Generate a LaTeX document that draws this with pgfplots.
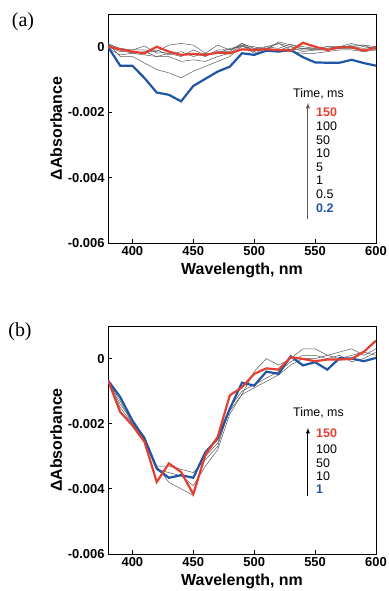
\documentclass[border=0pt]{standalone}
\usepackage{pgfplots}
\pgfplotsset{compat=1.18}
\usepackage{fontspec}
\setmainfont{Liberation Sans}
\newfontfamily\serif{Liberation Serif}
\definecolor{myblue}{RGB}{30,85,165}
\definecolor{myred}{RGB}{228,62,48}
\pgfplotsset{
  panel/.style={
    scale only axis, width=268bp, height=229bp,
    xmin=380, xmax=600, ymin=-0.006, ymax=0.001,
    xtick={400,450,500,550,600},
    ytick={-0.006,-0.004,-0.002,0},
    yticklabels={-0.006,-0.004,-0.002,0},
    xtick pos=bottom, ytick pos=left,
    tick align=inside, major tick length=4bp,
    axis line style={line width=1pt}, major tick style={line width=0.8pt,black},
    tick label style={font=\fontsize{13}{13}\selectfont\bfseries},
    /pgf/number format/assume math mode=true,
    scaled y ticks=false,
    xlabel={Wavelength, nm}, ylabel={ΔAbsorbance},
    label style={font=\fontsize{16}{16}\selectfont\bfseries},
    xlabel style={yshift=0bp},
    ylabel style={yshift=-1bp},
    clip=true,
  },
  gr/.style={gray!70!black, line width=0.5pt},
  bl/.style={myblue, line width=2.2pt},
  rd/.style={myred, line width=2.2pt},
}
\begin{document}
\begin{tikzpicture}
\useasboundingbox (0,0) rectangle (389bp,-591bp);
\node[font=\serif\fontsize{20}{20}\selectfont] at (23bp,-22bp) {(a)};
\node[font=\serif\fontsize{20}{20}\selectfont] at (20bp,-332bp) {(b)};
\begin{axis}[panel, at={(108bp,-14bp)}, anchor=north west]
% gray lines
\addplot[gr] coordinates {(380,0.0001)(390,-0.0003)(400,-0.0003)(410,-0.0005)(420,-0.0007)(430,-0.0008)(440,-0.00095)(450,-0.00075)(460,-0.0006)(470,-0.00045)(480,-0.0003)(490,0.00002)(500,-0.0001)(510,-0.00005)(520,-0.0001)(530,-0.00015)(540,-0.0002)(550,-0.0002)(560,-0.00015)(570,-0.0001)(580,-0.0001)(590,-0.00015)(600,-0.0001)};
\addplot[gr] coordinates {(380,0.00005)(390,-0.0001)(400,-0.0002)(410,-0.00025)(420,-0.0003)(430,-0.0003)(440,-0.00045)(450,-0.0004)(460,-0.00045)(470,-0.0003)(480,-0.0002)(490,0.00005)(500,-0.0002)(510,-0.00005)(520,0.0001)(530,-0.0001)(540,-0.00005)(550,-0.0001)(560,-0.0001)(570,0)(580,0)(590,-0.00005)(600,0)};
\addplot[gr] coordinates {(380,0.00008)(390,-0.00005)(400,-0.0001)(410,-0.0001)(420,-0.00015)(430,0.00005)(440,0.0001)(450,0.00005)(460,-0.0002)(470,0.00005)(480,-0.0001)(490,0.0001)(500,-0.00005)(510,0)(520,0.0001)(530,0)(540,-0.00005)(550,-0.00005)(560,0)(570,0)(580,0.0001)(590,0)(600,-0.00005)};
\addplot[gr] coordinates {(380,0)(390,-0.00015)(400,-0.0001)(410,0.00002)(420,-0.0002)(430,-0.00015)(440,-0.00025)(450,-0.0002)(460,-0.0003)(470,-0.0001)(480,-0.0001)(490,0.00005)(500,0)(510,-0.0001)(520,0.00015)(530,0.00005)(540,0)(550,-0.00005)(560,0)(570,-0.00005)(580,0.00005)(590,0.00005)(600,0)};
\addplot[gr] coordinates {(380,-0.00005)(390,-0.00025)(400,-0.0002)(410,-0.00015)(420,-0.0003)(430,-0.0002)(440,-0.0003)(450,-0.0001)(460,-0.00025)(470,-0.00015)(480,-0.00015)(490,0.0001)(500,-0.00015)(510,0)(520,-0.00005)(530,0.00008)(540,-0.0001)(550,-0.0001)(560,-0.0001)(570,-0.00005)(580,-0.00005)(590,-0.0001)(600,-0.00005)};
\addplot[gr] coordinates {(380,0.0001)(390,-0.00008)(400,-0.00018)(410,-0.0002)(420,-0.0001)(430,-0.00025)(440,-0.00015)(450,-0.0003)(460,-0.0002)(470,-0.0002)(480,-0.00005)(490,0)(500,-0.00005)(510,-0.00008)(520,-0.0001)(530,0)(540,-0.00015)(550,-0.0001)(560,-0.00005)(570,0)(580,0)(590,0.00005)(600,-0.0001)};
% 0.2 ms
\addplot[bl] coordinates {(380,0)(390,-0.00058)(400,-0.00058)(410,-0.00096)(420,-0.0014)(430,-0.00147)(440,-0.00167)(450,-0.0012)(460,-0.00098)(470,-0.00076)(480,-0.00061)(490,-0.0002)(500,-0.00025)(510,-0.00012)(520,-0.00015)(530,-0.0001)(540,-0.00032)(550,-0.00048)(560,-0.00049)(570,-0.00049)(580,-0.0004)(590,-0.0005)(600,-0.00058)};
% 150 ms
\addplot[rd] coordinates {(380,0)(390,-0.00008)(400,-0.00015)(410,-0.0002)(420,0)(430,-0.00015)(440,-0.00025)(450,-0.00022)(460,-0.00025)(470,-0.00018)(480,-0.0002)(490,-0.00008)(500,-0.0001)(510,-0.00008)(520,-0.0001)(530,-0.00012)(540,0.00012)(550,0)(560,-0.0001)(570,-0.00002)(580,-0.00002)(590,-0.00012)(600,-0.00003)};
\draw[-latex, gray!70!black, line width=0.9pt] (rel axis cs:0.746,0.105) -- (rel axis cs:0.746,0.612);
\node[anchor=west, font=\fontsize{12.5}{12.5}\selectfont, inner sep=0pt] at (rel axis cs:0.69,0.65) {Time, ms};
\begin{scope}[every node/.style={anchor=west, inner sep=0pt, font=\fontsize{12.5}{12.5}\selectfont}]
\node[myred, font=\fontsize{12.5}{12.5}\selectfont\bfseries] at (rel axis cs:0.776,0.572) {150};
\node at (rel axis cs:0.776,0.508) {100};
\node at (rel axis cs:0.776,0.449) {50};
\node at (rel axis cs:0.776,0.390) {10};
\node at (rel axis cs:0.776,0.331) {5};
\node at (rel axis cs:0.776,0.272) {1};
\node at (rel axis cs:0.776,0.213) {0.5};
\node[myblue, font=\fontsize{12.5}{12.5}\selectfont\bfseries] at (rel axis cs:0.776,0.154) {0.2};
\end{scope}
\end{axis}
\begin{axis}[panel, height=228bp, at={(108bp,-326bp)}, anchor=north west]
% gray lines
\addplot[gr] coordinates {(380,-0.0007)(390,-0.0014)(400,-0.0019)(410,-0.0024)(420,-0.0033)(430,-0.0038)(440,-0.0040)(450,-0.0042)(460,-0.0030)(470,-0.0026)(480,-0.0016)(490,-0.0011)(500,-0.0004)(510,0)(520,-0.0002)(530,0)(540,0.0003)(550,0.0003)(560,0.0001)(570,0.0002)(580,0.0003)(590,0.0001)(600,0.0003)};
\addplot[gr] coordinates {(380,-0.0007)(390,-0.0013)(400,-0.0020)(410,-0.0025)(420,-0.0033)(430,-0.0033)(440,-0.0034)(450,-0.0035)(460,-0.0031)(470,-0.0027)(480,-0.0015)(490,-0.0010)(500,-0.0008)(510,-0.0006)(520,-0.0004)(530,-0.0001)(540,0.0001)(550,0.0001)(560,0.0000)(570,0.0001)(580,-0.0001)(590,0.0000)(600,0.0002)};
\addplot[gr] coordinates {(380,-0.0007)(390,-0.0015)(400,-0.0020)(410,-0.0024)(420,-0.0034)(430,-0.0035)(440,-0.0036)(450,-0.0039)(460,-0.0033)(470,-0.0028)(480,-0.0017)(490,-0.0011)(500,-0.0009)(510,-0.0007)(520,-0.0005)(530,-0.0002)(540,0.0000)(550,0.0000)(560,0.0001)(570,0.0000)(580,0.0001)(590,0.0002)(600,0.0001)};
% 1 ms
\addplot[bl] coordinates {(380,-0.00067)(390,-0.00118)(400,-0.0019)(410,-0.00246)(420,-0.00338)(430,-0.00366)(440,-0.00358)(450,-0.00366)(460,-0.00287)(470,-0.00246)(480,-0.00154)(490,-0.00074)(500,-0.00083)(510,-0.0004)(520,-0.00047)(530,0.00007)(540,-0.00021)(550,-0.00011)(560,-0.00034)(570,0.00001)(580,0)(590,-0.00008)(600,0.00002)};
% 150 ms
\addplot[rd] coordinates {(380,-0.00067)(390,-0.00164)(400,-0.00205)(410,-0.00256)(420,-0.00379)(430,-0.00322)(440,-0.00348)(450,-0.00416)(460,-0.00295)(470,-0.00241)(480,-0.00113)(490,-0.00088)(500,-0.00047)(510,-0.0003)(520,-0.00034)(530,0.00004)(540,-0.00001)(550,-0.00008)(560,-0.00003)(570,-0.00003)(580,-0.00001)(590,0.00021)(600,0.00055)};
\draw[-latex, black, line width=0.9pt] (rel axis cs:0.746,0.254) -- (rel axis cs:0.746,0.553);
\node[anchor=west, font=\fontsize{12.5}{12.5}\selectfont, inner sep=0pt] at (rel axis cs:0.69,0.618) {Time, ms};
\begin{scope}[every node/.style={anchor=west, inner sep=0pt, font=\fontsize{12.5}{12.5}\selectfont}]
\node[myred, font=\fontsize{12.5}{12.5}\selectfont\bfseries] at (rel axis cs:0.776,0.53) {150};
\node at (rel axis cs:0.776,0.461) {100};
\node at (rel axis cs:0.776,0.399) {50};
\node at (rel axis cs:0.776,0.342) {10};
\node[myblue, font=\fontsize{12.5}{12.5}\selectfont\bfseries] at (rel axis cs:0.776,0.285) {1};
\end{scope}
\end{axis}
\end{tikzpicture}
\end{document}
